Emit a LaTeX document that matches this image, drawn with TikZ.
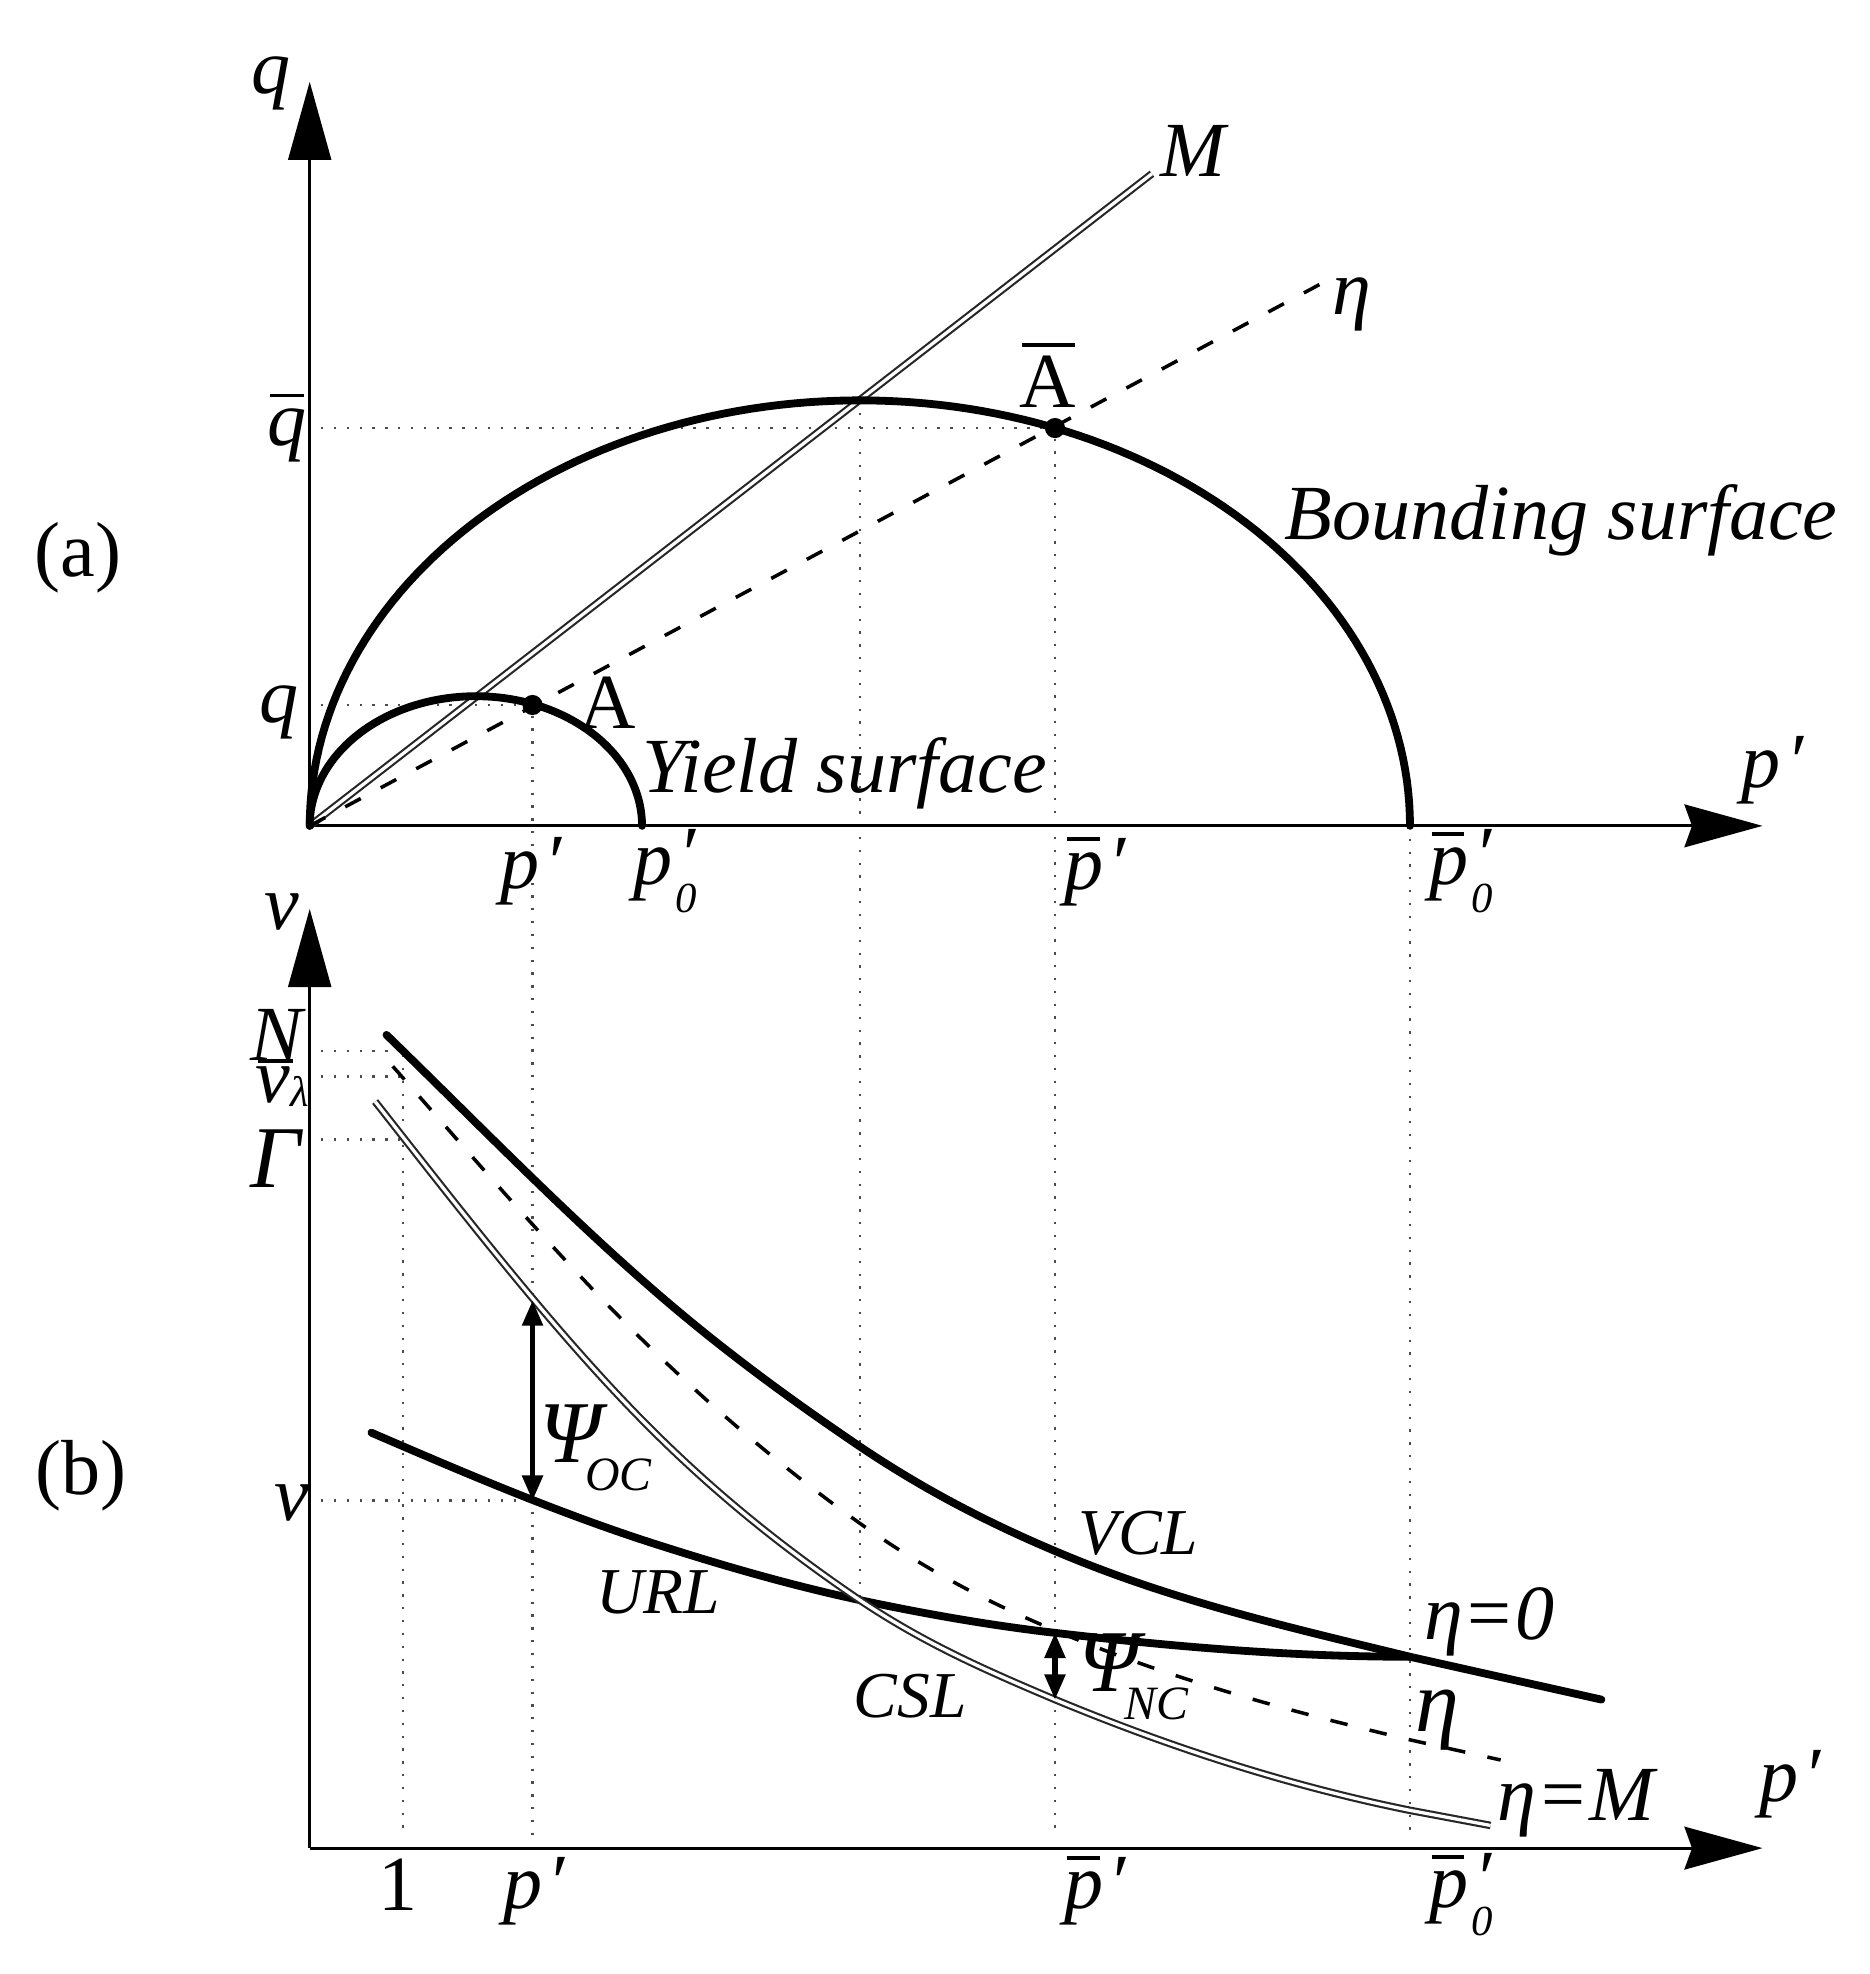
\documentclass[tikz,border=0pt]{standalone}
\usepackage{fontspec}
\setmainfont{Liberation Serif}
\usetikzlibrary{arrows.meta}
\newcommand\ovl[3]{\leavevmode\rlap{\kern.03em\raisebox{#1}{\rule{#2}{.05em}}}#3}
\newcommand\pzero{\textit{p}\kern.08em\rlap{\kern-.04em\raisebox{-.36em}{\fontsize{17}{17}\selectfont\textit{0}}}\raisebox{.04em}{′}}
\newcommand\Psilab[1]{{\fontsize{35}{35}\selectfont Ψ}\kern-.2em\raisebox{-.36em}{\fontsize{19}{19}\selectfont #1}}
\tikzset{
 lab/.style={inner sep=0pt,font=\fontsize{31}{31}\selectfont\itshape},
 big/.style={inner sep=0pt,font=\fontsize{35}{35}\selectfont\itshape},
 rom/.style={inner sep=0pt,font=\fontsize{31}{31}\selectfont},
 small/.style={inner sep=0pt,font=\fontsize{26}{26}\selectfont\itshape},
 axisv/.style={line width=1.1pt,-{Triangle[length=31pt,width=17pt]}},
 axish/.style={line width=1.1pt,-{Stealth[length=31pt,width=17pt,inset=3pt]}},
 heavy/.style={line width=3.1pt,line cap=round},
 twin/.style={line width=.85pt,double=white,double distance=1.3pt,draw=black!85},
 dashline/.style={line width=1.4pt,dash pattern=on 7pt off 9pt},
 leader/.style={line width=1pt,dash pattern=on .9pt off 4.2pt,black!70},
 span/.style={line width=2pt,{Triangle[length=10pt,width=8pt]}-{Triangle[length=10pt,width=8pt]}},
 spot/.style={circle,fill=black,inner sep=0pt,minimum size=8pt},
}
\begin{document}
\begin{tikzpicture}[x=.5pt,y=-.5pt]
\useasboundingbox (0,0) rectangle (1485,1568);
% key points
\coordinate (O) at (246,656);
\coordinate (qtip) at (246,65);
\coordinate (ptip) at (1400,656);
\coordinate (Mend) at (915,138);
\coordinate (eend) at (1050,225);
\coordinate (O2) at (246,1468);
\coordinate (vtip) at (246,722);
\coordinate (p2tip) at (1400,1468);
\coordinate (apex) at (683,318);
\coordinate (cross) at (683,1271);
\coordinate (tq) at (255,340);
\coordinate (ts) at (255,560);
\coordinate (urlA) at (423,1192);
\coordinate (cslA) at (423,1033);
\coordinate (urlB) at (838,1297);
\coordinate (cslB) at (838,1350);
\node[spot] (Abar) at (838,340) {};
\node[spot] (Apt) at (423,560) {};
% dotted leaders
\draw[leader] (tq) -- (Abar);
\draw[leader] (ts) -- (Apt);
\draw[leader] (apex) -- (cross);
\draw[leader] (Abar) -- (838,1458);
\draw[leader] (Apt) -- (423,1458);
\draw[leader] (1120,656) -- (1120,1458);
\draw[leader] (320,838) -- (320,1460);
\draw[leader] (255,835) -- (318,835);
\draw[leader] (255,855) -- (318,855);
\draw[leader] (255,905) -- (318,905);
\draw[leader] (255,1192) -- (urlA);
% axes
\draw[axisv] (O) -- (qtip);
\draw[axish] (O) -- (ptip);
\draw[axisv] (O2) -- (vtip);
\draw[axish] (O2) -- (p2tip);
% panel a
\draw[twin] (O) -- (Mend);
\draw[dashline] (O) -- (eend);
\draw[heavy] plot[domain=0:180,samples=120] ({683+437*cos(\x)},{656-338*sin(\x)});
\draw[heavy] plot[domain=0:180,samples=80] ({378+132*cos(\x)},{656-103*sin(\x)});
% panel b
\draw[heavy] (307,822) .. controls (377,890) and (446,961) .. (516,1022)
  .. controls (572,1071) and (627,1111) .. (683,1149)
  .. controls (735,1184) and (786,1210) .. (838,1232)
  .. controls (932,1272) and (1026,1293) .. (1120,1316) -- (1272,1350);
\draw[heavy] (295,1138) .. controls (369,1170) and (442,1201) .. (516,1225)
  .. controls (572,1243) and (627,1259) .. (683,1271)
  .. controls (735,1282) and (786,1291) .. (838,1297)
  .. controls (932,1308) and (1026,1316) .. (1120,1316);
\draw[dashline] (312,847) .. controls (386,931) and (461,1019) .. (535,1088)
  .. controls (584,1134) and (634,1175) .. (683,1210)
  .. controls (728,1242) and (772,1266) .. (817,1286)
  .. controls (918,1331) and (1019,1358) .. (1120,1382) -- (1192,1398);
\draw[twin] (298,875) .. controls (371,968) and (443,1061) .. (516,1134)
  .. controls (572,1190) and (627,1233) .. (683,1271)
  .. controls (735,1306) and (786,1328) .. (838,1350)
  .. controls (932,1389) and (1026,1419) .. (1120,1438) -- (1184,1450);
\draw[span] (cslA) -- (urlA);
\draw[span] (urlB) -- (cslB);
% labels
\node[rom] (la) at (62,443) {(a)};
\node[rom] (lb) at (64,1172) {(b)};
\node[lab] (nq) at (215,66) {q};
\node[lab] (nqb) at (228,340) {\ovl{.62em}{.44em}{q}};
\node[lab] (nqs) at (222,566) {q};
\node[rom] (nAb) at (832,298) {\ovl{.78em}{.68em}{A}};
\node[rom] (nA) at (483,558) {A};
\node[lab] (nM) at (948,120) {M};
\node[lab] (ne) at (1074,242) {η};
\node[lab] (nbs) at (1240,413) {Bounding surface};
\node[lab] (nys) at (671,614) {Yield surface};
\node[lab] (np1) at (1408,612) {\textit{p}\kern.07em′};
\node[lab] (np2) at (422,692) {\textit{p}\kern.07em′};
\node[lab] (np3) at (528,692) {\pzero};
\node[lab] (np4) at (870,692) {\ovl{.62em}{.42em}{\textit{p}}\kern.07em′};
\node[lab] (np5) at (1160,692) {\ovl{.62em}{.42em}{\pzero}};
\node[lab] (nv1) at (224,724) {v};
\node[lab] (nN) at (220,822) {N};
\node[lab] (nvl) at (224,860) {\ovl{.5em}{.45em}{v}\raisebox{-.05em}{\fontsize{17}{17}\selectfont λ}};
\node[big] (nG) at (219,920) {Γ};
\node[lab] (nv2) at (232,1194) {v};
\node[lab] (nPo) at (473,1150) {\Psilab{OC}};
\node[small] (nVCL) at (904,1218) {VCL};
\node[small] (nURL) at (523,1265) {URL};
\node[small] (nCSL) at (723,1347) {CSL};
\node[lab] (ne0) at (1183,1288) {η=0};
\node[big] (ne1) at (1142,1366) {η};
\node[lab] (neM) at (1252,1432) {η=M};
\node[lab] (nPn) at (900,1332) {\Psilab{NC}};
\node[lab] (np6) at (1422,1417) {\textit{p}\kern.07em′};
\node[rom] (n1) at (316,1497) {1};
\node[lab] (np7) at (424,1502) {\textit{p}\kern.07em′};
\node[lab] (np8) at (870,1502) {\ovl{.62em}{.42em}{\textit{p}}\kern.07em′};
\node[lab] (np9) at (1160,1505) {\ovl{.62em}{.42em}{\pzero}};
\end{tikzpicture}
\end{document}
